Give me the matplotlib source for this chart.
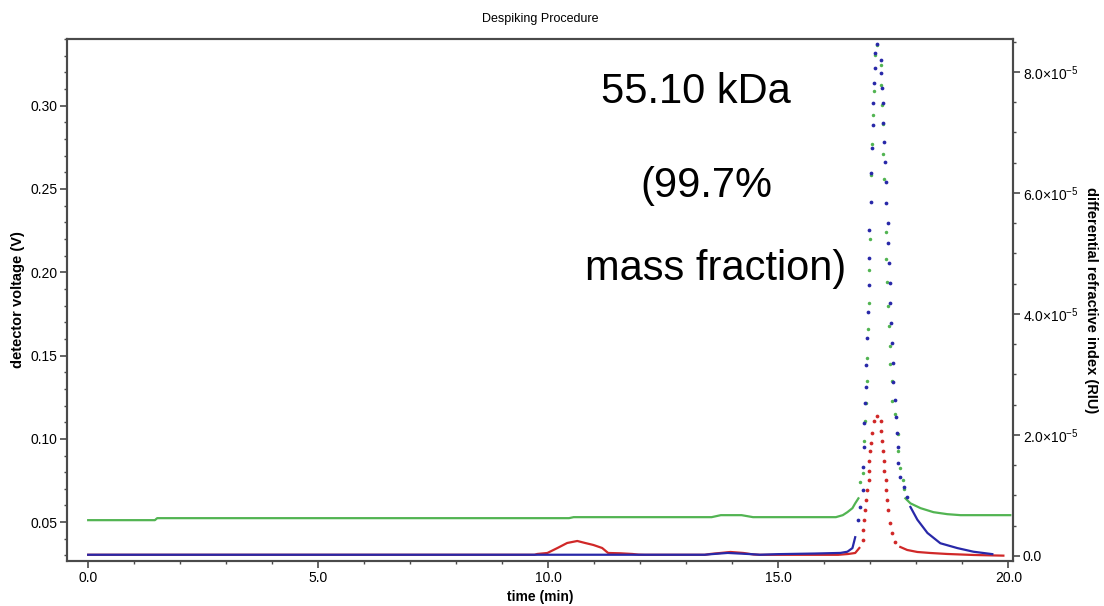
import matplotlib
matplotlib.use("Agg")
import matplotlib.pyplot as plt
import numpy as np

plt.rcParams['font.family'] = ['Liberation Sans', 'DejaVu Sans']
plt.rcParams['mathtext.fontset'] = 'custom'
plt.rcParams['mathtext.rm'] = 'Liberation Sans'
plt.rcParams['mathtext.it'] = 'Liberation Sans:italic'

# ---- green trace (detector voltage, V) ----
green_base1_t = [0.0, 1.45, 1.50, 10.45, 10.55, 13.55, 13.75, 14.20, 14.45, 16.25, 16.40, 16.50, 16.61, 16.67, 16.74]
green_base1_v = [0.0512, 0.0512, 0.0524, 0.0524, 0.0530, 0.0530, 0.0542, 0.0542, 0.0530, 0.0530, 0.0542, 0.0560, 0.0584, 0.0613, 0.0643]
green_peak_t = [16.78, 16.83, 16.87, 16.89, 16.91, 16.92, 16.93, 16.95, 16.96, 16.97, 17.00, 17.02, 17.04, 17.06, 17.07, 17.11, 17.15,
                17.22, 17.24, 17.25, 17.27, 17.28, 17.30, 17.33, 17.35, 17.37, 17.39, 17.41, 17.42, 17.43, 17.46, 17.48,
                17.54, 17.59, 17.61, 17.65, 17.70, 17.72]
green_peak_v = [0.0739, 0.0798, 0.0989, 0.1109, 0.1216, 0.1347, 0.1484, 0.1658, 0.1813, 0.2016, 0.2200, 0.2582, 0.2767, 0.2946, 0.3089, 0.3304, 0.3364,
                0.3245, 0.3125, 0.3006, 0.2887, 0.2708, 0.2558, 0.2242, 0.2081, 0.1944, 0.1795, 0.1675, 0.1556, 0.1449, 0.1347, 0.1228,
                0.1150, 0.1031, 0.0930, 0.0828, 0.0751, 0.0700]
green_base2_t = [17.76, 17.87, 18.09, 18.37, 18.67, 18.96, 20.04]
green_base2_v = [0.0643, 0.0613, 0.0584, 0.0560, 0.0548, 0.0542, 0.0542]

# ---- red trace (detector voltage, V) ----
red_base1_t = [0.0, 9.70, 9.76, 9.98, 10.20, 10.41, 10.63, 10.80, 10.98, 11.17, 11.30, 11.57, 11.83, 11.96, 12.10,
               13.40, 13.52, 13.74, 13.96, 14.24, 14.46, 14.60, 16.30, 16.52, 16.67, 16.76]
red_base1_v = [0.0304, 0.0304, 0.0309, 0.0315, 0.0345, 0.0375, 0.0387, 0.0375, 0.0363, 0.0345, 0.0315, 0.0313, 0.0309, 0.0305, 0.0304,
               0.0304, 0.0309, 0.0315, 0.0321, 0.0315, 0.0306, 0.0304, 0.0304, 0.0309, 0.0315, 0.0345]
red_peak_t = [16.83, 16.85, 16.87, 16.89, 16.91, 16.93, 16.96, 16.97, 16.98, 17.00, 17.02, 17.04, 17.07, 17.15,
              17.22, 17.24, 17.26, 17.28, 17.29, 17.30, 17.33, 17.35, 17.37, 17.39, 17.43, 17.48, 17.54]
red_peak_v = [0.0393, 0.0452, 0.0512, 0.0572, 0.0631, 0.0691, 0.0751, 0.0810, 0.0870, 0.0930, 0.0977, 0.1037, 0.1109, 0.1138,
              0.1109, 0.1049, 0.0989, 0.0930, 0.0870, 0.0810, 0.0751, 0.0691, 0.0631, 0.0572, 0.0494, 0.0434, 0.0381]
red_base2_t = [17.65, 17.80, 18.02, 18.30, 18.67, 19.24, 19.89]
red_base2_v = [0.0351, 0.0333, 0.0321, 0.0315, 0.0309, 0.0303, 0.0299]

# ---- blue trace (differential refractive index, 1e-5 RIU) ----
blue_base1_t = [0.0, 13.40, 13.55, 13.90, 14.40, 14.60, 15.00, 15.80, 16.35, 16.50, 16.61, 16.67]
blue_base1_v = [0.02, 0.02, 0.03, 0.05, 0.03, 0.02, 0.03, 0.04, 0.05, 0.07, 0.13, 0.31]
blue_peak_t = [16.74, 16.78, 16.83, 16.85, 16.86, 16.87, 16.89, 16.90, 16.91, 16.93, 16.95, 16.96, 16.97, 16.98, 17.01, 17.02,
               17.04, 17.05, 17.06, 17.07, 17.09, 17.11, 17.15,
               17.22, 17.24, 17.26, 17.27, 17.28, 17.30, 17.32, 17.33, 17.35, 17.38, 17.39, 17.41, 17.42, 17.43, 17.45,
               17.47, 17.49, 17.50, 17.54, 17.56, 17.58, 17.59, 17.61, 17.65, 17.72, 17.80]
blue_peak_v = [0.60, 0.81, 1.09, 1.47, 1.80, 2.20, 2.53, 2.79, 3.16, 3.60, 4.03, 4.48, 4.93, 5.39, 5.85, 6.33,
               6.74, 7.12, 7.49, 7.82, 8.07, 8.31, 8.46,
               8.20, 7.98, 7.74, 7.49, 7.16, 6.84, 6.51, 6.18, 5.83, 5.50, 5.17, 4.84, 4.51, 4.18, 3.85,
               3.52, 3.19, 2.88, 2.58, 2.30, 2.03, 1.80, 1.54, 1.31, 1.14, 0.98]
blue_base2_t = [17.87, 18.02, 18.24, 18.52, 18.89, 19.24, 19.65]
blue_base2_v = [0.81, 0.60, 0.38, 0.21, 0.13, 0.07, 0.03]

x_ticks = [0, 5, 10, 15, 20]
x_labels = ['0.0', '5.0', '10.0', '15.0', '20.0']
left_ticks = [0.05, 0.10, 0.15, 0.20, 0.25, 0.30]
left_labels = ['0.05', '0.10', '0.15', '0.20', '0.25', '0.30']
right_ticks = [0, 2, 4, 6, 8]
right_labels = ['0.0', r'2.0$\times$10$^{-5}$', r'4.0$\times$10$^{-5}$', r'6.0$\times$10$^{-5}$', r'8.0$\times$10$^{-5}$']

GREEN = '#52b452'
RED = '#d02828'
BLUE = '#2828a8'
SPINE = '#4a4a4a'

fig = plt.figure(figsize=(11.04, 6.06), dpi=100)
ax = fig.add_axes([0.0607, 0.0743, 0.8569, 0.8613])
ax2 = ax.twinx()

# left axis traces
ax.plot(green_base1_t, green_base1_v, color=GREEN, lw=1.6)
ax.plot(green_base2_t, green_base2_v, color=GREEN, lw=1.6)
ax.plot(green_peak_t, green_peak_v, ls='none', marker='o', ms=2.5, color=GREEN, mec='none')
ax.plot(red_base1_t, red_base1_v, color=RED, lw=1.6)
ax.plot(red_base2_t, red_base2_v, color=RED, lw=1.6)
ax.plot(red_peak_t, red_peak_v, ls='none', marker='o', ms=2.7, color=RED, mec='none')

# right axis trace
bs = 1e-5
ax2.plot(blue_base1_t, np.array(blue_base1_v) * bs, color=BLUE, lw=1.6)
ax2.plot(blue_base2_t, np.array(blue_base2_v) * bs, color=BLUE, lw=1.6)
ax2.plot(blue_peak_t, np.array(blue_peak_v) * bs, ls='none', marker='o', ms=2.7, color=BLUE, mec='none')

ax.set_xlim(-0.46, 20.1)
ax.set_ylim(0.0267, 0.3382)
ax2.set_ylim(-0.083e-5, 8.545e-5)

ax.set_xticks(x_ticks)
ax.set_xticklabels(x_labels)
ax.set_xticks(np.arange(0, 21, 1), minor=True)
ax.set_yticks(left_ticks)
ax.set_yticklabels(left_labels)
ax.set_yticks(np.arange(0.03, 0.34, 0.01), minor=True)
ax2.set_yticks(np.array(right_ticks) * bs)
ax2.set_yticklabels(right_labels)
ax2.set_yticks(np.arange(0, 8.6, 0.5) * bs, minor=True)

for a in (ax, ax2):
    for s in a.spines.values():
        s.set_color(SPINE)
        s.set_linewidth(1.5)
    a.tick_params(which='major', direction='out', length=5, width=1.2, color=SPINE, labelsize=10, pad=2)
    a.tick_params(which='minor', direction='out', length=2.5, width=1.0, color=SPINE)
ax.tick_params(axis='x', which='both', top=False)

ax.set_xlabel('time (min)', fontsize=10, fontweight='bold', labelpad=4)
ax.set_ylabel('detector voltage (V)', fontsize=10.5, fontweight='bold', labelpad=4)
ax2.set_ylabel('differential refractive index (RIU)', fontsize=10.5, fontweight='bold', rotation=-90, labelpad=14)

fig.text(0.489, 0.968, 'Despiking Procedure', ha='center', va='center', fontsize=9)

fig.text(0.630, 0.830, '55.10 kDa', ha='center', va='baseline', fontsize=30)
fig.text(0.640, 0.675, '(99.7%', ha='center', va='baseline', fontsize=30)
fig.text(0.648, 0.538, 'mass fraction)', ha='center', va='baseline', fontsize=30)

fig.savefig('out.png', dpi=100)
